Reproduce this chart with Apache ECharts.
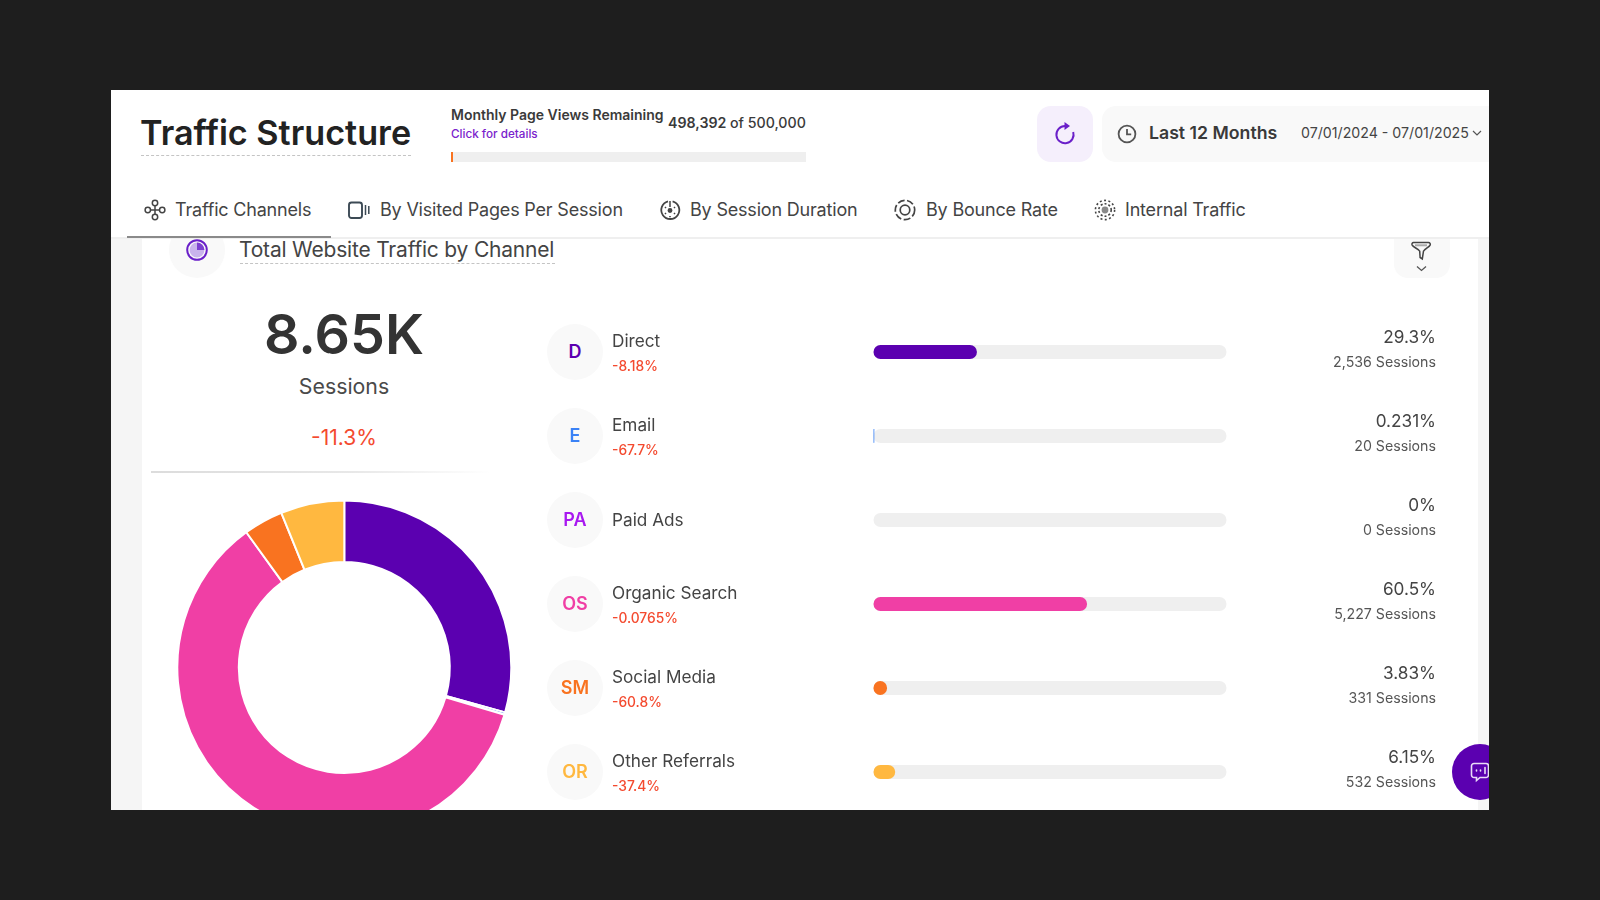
<!DOCTYPE html>
<html lang="en">
<head>
<meta charset="UTF-8">
<title>Traffic Structure</title>
<script src="https://cdn.jsdelivr.net/npm/echarts@6/dist/echarts.min.js"></script>
<style>
  html, body { margin: 0; width: 1600px; height: 900px; background: #1e1e1e; overflow: hidden; font-family: Inter, "Noto Sans", sans-serif; }
  #page { position: absolute; left: 0; top: 0; width: 1600px; height: 900px; clip-path: inset(90px 111px 90px 111px); background: #f5f5f5; }
  .box { position: absolute; }
  .t { position: absolute; line-height: 1; white-space: nowrap; transform: translateY(-50%); }
  .r { text-align: right; }
  .c { transform: translate(-50%, -50%); text-align: center; }
  svg { position: absolute; overflow: visible; }
  #chart { position: absolute; left: 111px; top: 90px; width: 1378px; height: 740px; }
  .dots { position: absolute; border-top: 1px dashed #c4c4c4; }
</style>
</head>
<body>
<div id="page">
  <!-- card -->
  <div class="box" style="left:142px;top:238px;width:1336px;height:572px;background:#fff"></div>
  <div class="box" style="left:169px;top:222px;width:56px;height:56px;border-radius:50%;background:#f9f9f9"></div>
  <div class="box" style="left:1394px;top:222px;width:56px;height:56px;border-radius:14px;background:#f9f9f9"></div>
  <!-- header -->
  <div class="box" style="left:111px;top:90px;width:1378px;height:147px;background:#fff;border-bottom:2px solid #efefef"></div>
  <div class="box" style="left:127px;top:236px;width:204px;height:2px;background:#8a8a8a"></div>

  <div class="t" style="left:140px;top:133px;font-size:34.2px;font-weight:600;color:#222">Traffic Structure</div>
  <div class="dots" style="left:141px;top:155px;width:270px"></div>
  <div class="t" style="left:451px;top:115px;font-size:14px;font-weight:600;color:#3a3a3a">Monthly Page Views Remaining</div>
  <div class="t" style="left:451px;top:135px;font-size:11.7px;font-weight:500;color:#7a22cc">Click for details</div>
  <div class="t" style="left:668px;top:123px;font-size:14.2px;font-weight:600;color:#3a3a3a">498,392 <span style="font-weight:500">of 500,000</span></div>
  <div class="box" style="left:451px;top:152px;width:355px;height:10px;background:#efefef"></div>
  <div class="box" style="left:451px;top:152px;width:2px;height:10px;background:#f97320"></div>

  <div class="box" style="left:1037px;top:106px;width:56px;height:56px;border-radius:14px;background:#f5effc"></div>
  <svg style="left:1052px;top:121px" width="26" height="26" viewBox="0 0 26 26" fill="none" stroke="#6a1fc9" stroke-width="2">
    <path d="M13 5a8.6 8.6 0 1 0 8.2 6"/><path d="M12.5 1l5.5 4-5.5 4z" fill="#6a1fc9" stroke="none"/>
  </svg>
  <div class="box" style="left:1102px;top:106px;width:400px;height:56px;border-radius:14px;background:#f9f9f9"></div>
  <svg style="left:1117px;top:124px" width="20" height="20" viewBox="0 0 20 20" fill="none" stroke="#555" stroke-width="1.8">
    <circle cx="10" cy="10" r="8.4"/><path d="M10 5v5.4h4.2"/>
  </svg>
  <div class="t" style="left:1149px;top:133px;font-size:17.7px;font-weight:600;color:#3a3a3a">Last 12 Months</div>
  <div class="t" style="left:1301px;top:132.5px;font-size:14.2px;color:#444">07/01/2024 - 07/01/2025</div>
  <svg style="left:1472px;top:130px" width="10" height="6" viewBox="0 0 10 6" fill="none" stroke="#555" stroke-width="1.2"><path d="M1 1l4 4 4-4"/></svg>

  <div id="tabs"></div>

  <svg style="left:186px;top:239px" width="22" height="22" viewBox="0 0 22 22" fill="none">
    <circle cx="11" cy="11" r="9.8" stroke="#6a1fc9" stroke-width="2"/>
    <circle cx="11" cy="11" r="7.4" fill="#c9b3ec"/>
    <path d="M11 11V3.6a7.4 7.4 0 0 1 7.4 7.4z" fill="#7c3fd0"/>
  </svg>
  <div class="t" style="left:239px;top:249px;font-size:21px;letter-spacing:-0.2px;color:#444">Total Website Traffic by Channel</div>
  <div class="dots" style="left:239.5px;top:263px;width:315px"></div>
  <svg style="left:1410px;top:238px" width="24" height="36" viewBox="0 0 24 36" fill="none" stroke="#444" stroke-width="1.5">
    <path d="M3.5 4.5h15a1.8 1.8 0 0 1 1.6 2.6c-1 2-4.600 3.400-6.600 6l-1.200 7.800-2.200-1.400-.4-6.400c-2-2.600-6.400-3.800-7.500-6-.6-1.300.1-2.600 1.300-2.600z"/>
    <path d="M5 7.300h12" stroke="#aaa" stroke-width="2"/>
    <path d="M7 28.500l4.500 4 4.500-4" stroke="#555" stroke-width="1.3"/>
  </svg>

  <div class="t c" style="left:344px;top:334px;font-size:55.5px;font-weight:600;color:#333">8.65K</div>
  <div class="t c" style="left:344px;top:387px;font-size:21.3px;color:#4a4a4a">Sessions</div>
  <div class="t c" style="left:344px;top:437px;font-size:21px;color:#f44a2f">-11.3%</div>
  <div class="box" style="left:151px;top:471px;width:340px;height:2px;background:linear-gradient(90deg,#dcdcdc 0%,#e8e8e8 60%,#fff 100%)"></div>

  <div id="chart"></div>
  <div id="rows"></div>

  <div class="box" style="left:1452px;top:744px;width:56px;height:56px;border-radius:50%;background:#5b00b0"></div>
  <svg style="left:1470px;top:762px" width="20" height="22" viewBox="0 0 20 22" fill="none" stroke="#e9dcf7" stroke-width="1.6">
    <path d="M4 1.500h12a2.500 2.500 0 0 1 2.500 2.500v9A2.500 2.500 0 0 1 16 15.500H10l-3.500 3v-3H4A2.500 2.500 0 0 1 1.500 13V4A2.500 2.500 0 0 1 4 1.500z"/>
    <path d="M6.500 8v1M10.500 8v1M15 5.500v6" stroke-linecap="round"/>
  </svg>
</div>

<script>
  var channels = ['Direct', 'Email', 'Paid Ads', 'Organic Search', 'Social Media', 'Other Referrals']
  var initials = ['D', 'E', 'PA', 'OS', 'SM', 'OR']
  var changes = ['-8.18%', '-67.7%', '', '-0.0765%', '-60.8%', '-37.4%']
  var shareLabels = ['29.3%', '0.231%', '0%', '60.5%', '3.83%', '6.15%']
  var shares = [29.3, 0.231, 0, 60.5, 3.83, 6.15]
  var sessions = [2536, 20, 0, 5227, 331, 532]
  var colors = ['#5b00b0', '#3b82f6', '#a818f0', '#f03fa5', '#f97320', '#ffb840']
  var tabNames = ['Traffic Channels', 'By Visited Pages Per Session', 'By Session Duration', 'By Bounce Rate', 'Internal Traffic']

  // tabs
  var tabX = [175, 380, 690, 926, 1125]
  var tabIconX = [144, 348, 659, 894, 1094]
  var tabIcons = [
    '<circle cx="11" cy="4" r="2.7"/><circle cx="3.8" cy="11" r="2.7"/><circle cx="18.2" cy="11" r="2.7"/><circle cx="11" cy="18" r="2.7"/><path d="M11 6.7v8.6M6.5 11h9"/>',
    '<rect x="1" y="3.5" width="13" height="15.5" rx="2.5" stroke="#3c4a55" stroke-width="1.9"/><path d="M17.5 6v10M20.8 7v8" stroke="#3c4a55"/>',
    '<path d="M9 2.3a9 9 0 1 0 4.6 0" stroke-width="1.8"/><path d="M11 2v6"/><circle cx="11" cy="11.5" r="1.7" fill="#444"/><path d="M6 8l1 1M16 8l-1 1M6 15l1-1M16 15l-1-1M11 17v1.2" stroke-width="1.6"/>',
    '<circle cx="11" cy="11" r="9.7" stroke-dasharray="7 2.5" stroke-width="1.7"/><circle cx="11" cy="11" r="4.8" stroke-width="1.7"/>',
    '<circle cx="11" cy="11" r="3.4" fill="#8a8a8a" stroke="none"/><circle cx="11" cy="11" r="6.2" stroke-dasharray="2 2" stroke-width="1.6"/><circle cx="11" cy="11" r="9.6" stroke-dasharray="2 2.4" stroke-width="1.6"/>'
  ]
  var tabHtml = ''
  tabNames.forEach(function (name, i) {
    tabHtml += '<svg style="left:' + tabIconX[i] + 'px;top:199px" width="22" height="22" viewBox="0 0 22 22" fill="none" stroke="#444" stroke-width="1.5">' + tabIcons[i] + '</svg>'
    tabHtml += '<div class="t" style="left:' + tabX[i] + 'px;top:210px;font-size:18px;letter-spacing:-0.19px;color:#444">' + name + '</div>'
  })
  document.getElementById('tabs').innerHTML = tabHtml

  // rows: one line per channel, 84px apart
  var rowTop = 352
  var rowGap = 84
  var rowHtml = ''
  channels.forEach(function (name, i) {
    var y = rowTop + i * rowGap
    rowHtml += '<div class="box" style="left:547px;top:' + (y - 28) + 'px;width:56px;height:56px;border-radius:50%;background:#f9f9f9"></div>'
    rowHtml += '<div class="t c" style="left:575px;top:' + y + 'px;font-size:18px;font-weight:600;color:' + colors[i] + '">' + initials[i] + '</div>'
    if (changes[i]) {
      rowHtml += '<div class="t" style="left:612px;top:' + (y - 11) + 'px;font-size:17.2px;color:#444">' + name + '</div>'
      rowHtml += '<div class="t" style="left:612px;top:' + (y + 14.5) + 'px;font-size:13.8px;font-weight:500;color:#f44a2f">' + changes[i] + '</div>'
    } else {
      rowHtml += '<div class="t" style="left:612px;top:' + (y - 0.5) + 'px;font-size:17.2px;color:#444">' + name + '</div>'
    }
    rowHtml += '<div class="t r" style="right:164px;top:' + (y - 15) + 'px;font-size:17.2px;color:#444">' + shareLabels[i] + '</div>'
    rowHtml += '<div class="t r" style="right:164px;top:' + (y + 10) + 'px;font-size:14.2px;color:#555">' + sessions[i].toLocaleString('en-US') + ' Sessions</div>'
  })
  document.getElementById('rows').innerHTML = rowHtml

  var mCharts = echarts.init(document.getElementById('chart'))
  var option = {
    animation: false,
    grid: { left: 762.5, width: 353, top: 220, height: 504 },
    xAxis: { type: 'value', min: 0, max: 100, show: false },
    yAxis: { type: 'category', data: channels, inverse: true, show: false },
    series: [
      {
        type: 'pie',
        center: [233.3, 577.5],
        radius: [105.5, 167],
        startAngle: 90,
        label: { show: false },
        itemStyle: { borderColor: '#fff', borderWidth: 2 },
        data: channels.map(function (name, i) {
          return { name: name, value: sessions[i], itemStyle: { color: colors[i] } }
        })
      },
      {
        type: 'bar',
        barWidth: 14,
        data: shares.map(function (v, i) {
          return { value: v, itemStyle: { color: colors[i], borderRadius: 7 } }
        }),
        showBackground: true,
        backgroundStyle: { color: '#efefef', borderRadius: 7 }
      }
    ]
  }
  mCharts.setOption(option)
</script>
</body>
</html>
